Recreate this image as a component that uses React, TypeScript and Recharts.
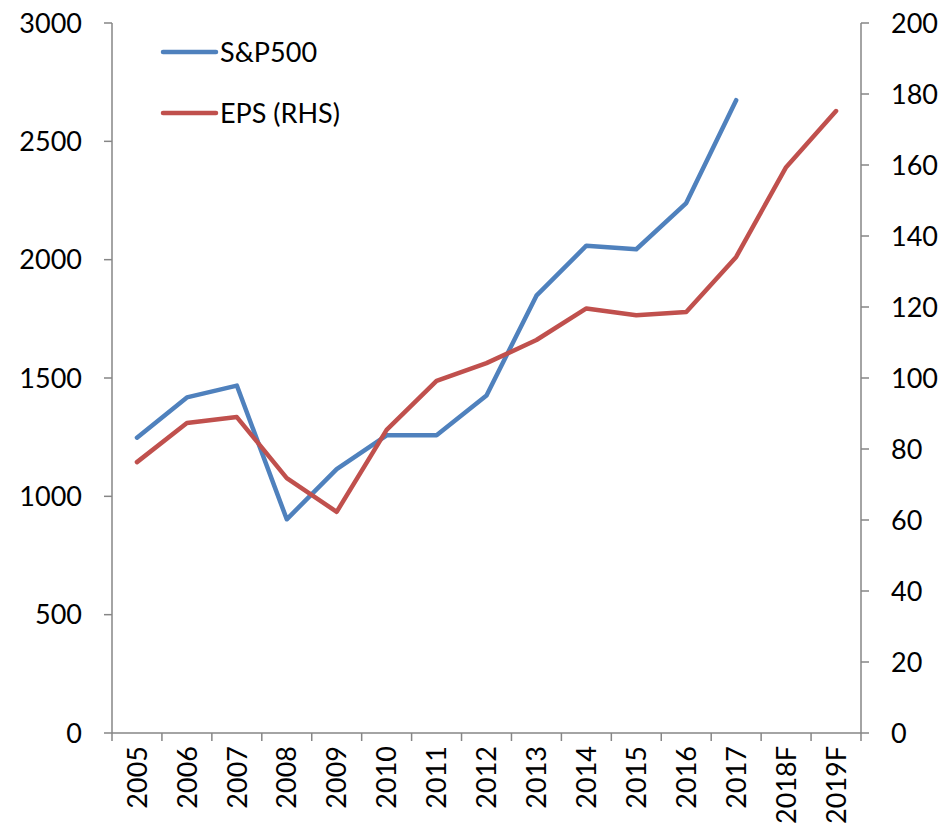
import React from "react";
import {
  LineChart,
  Line,
  XAxis,
  YAxis,
} from "recharts";

const years = [
  "2005", "2006", "2007", "2008", "2009", "2010", "2011", "2012",
  "2013", "2014", "2015", "2016", "2017", "2018F", "2019F",
];
const spx = [
  1248, 1418, 1468, 903, 1115, 1258, 1258, 1426, 1848, 2059, 2044, 2239, 2674,
  null, null,
];
const eps = [
  76.3, 87.3, 89.0, 71.8, 62.3, 85.4, 99.2, 104.2, 110.7, 119.6, 117.7, 118.6,
  134.1, 159.4, 175.2,
];
const leftTicks = [0, 500, 1000, 1500, 2000, 2500, 3000];
const rightTicks = [0, 20, 40, 60, 80, 100, 120, 140, 160, 180, 200];

const series = [
  { key: "spx", name: "S&P500", color: "#4F81BD", axis: "left" },
  { key: "eps", name: "EPS (RHS)", color: "#C0504D", axis: "right" },
];

const data = years.map((year, i) => ({ year, spx: spx[i], eps: eps[i] }));

const W = 952;
const H = 835;
const LEFT_W = 112;
const RIGHT_W = 91;
const BOTTOM_H = 102;
const TOP = 23;
const FONT = "Lato, 'Open Sans', sans-serif";
const AXIS = "#868686";
const BAND = (W - LEFT_W - RIGHT_W) / years.length;

const YearTick = (props: any) => {
  const { x, payload, index } = props;
  const axisY = H - BOTTOM_H;
  return (
    <g>
      <line x1={x - BAND / 2} x2={x - BAND / 2} y1={axisY} y2={axisY + 8} stroke={AXIS} strokeWidth={1.5} />
      {index === years.length - 1 && (
        <line x1={x + BAND / 2} x2={x + BAND / 2} y1={axisY} y2={axisY + 8} stroke={AXIS} strokeWidth={1.5} />
      )}
      <text
        x={x}
        y={axisY + 13}
        dy="0.36em"
        transform={`rotate(-90, ${x}, ${axisY + 13})`}
        textAnchor="end"
        fill="#000"
        fontSize={27}
        fontFamily={FONT}
      >
        {payload.value}
      </text>
    </g>
  );
};

// legend drawn as an overlay so it takes no room from the plot
const LegendBox = () => (
  <div
    style={{
      position: "absolute",
      left: 160,
      top: 21,
      fontFamily: FONT,
      fontSize: 27,
      color: "#000",
    }}
  >
    {series.map((s) => (
      <div key={s.key} style={{ display: "flex", alignItems: "center", height: 61 }}>
        <svg width={60} height={10}>
          <line x1={3} x2={56} y1={5} y2={5} stroke={s.color} strokeWidth={4.5} strokeLinecap="round" />
        </svg>
        <span>{s.name}</span>
      </div>
    ))}
  </div>
);

export default function App() {
  const tickStyle = { fill: "#000", fontSize: 27, fontFamily: FONT };
  return (
    <div style={{ position: "absolute", left: 0, top: 0, width: W, height: H, background: "#fff" }}>
      <LineChart
        width={W}
        height={H}
        data={data}
        margin={{ top: TOP, right: 0, left: 0, bottom: 0 }}
      >
        <XAxis
          dataKey="year"
          height={BOTTOM_H}
          interval={0}
          padding={{ left: BAND / 2, right: BAND / 2 }}
          tickLine={false}
          axisLine={{ stroke: AXIS, strokeWidth: 1.5 }}
          tick={<YearTick />}
        />
        <YAxis
          yAxisId="left"
          width={LEFT_W}
          domain={[0, 3000]}
          ticks={leftTicks}
          tickSize={8}
          tickMargin={22}
          tickLine={{ stroke: AXIS, strokeWidth: 1.5 }}
          axisLine={{ stroke: AXIS, strokeWidth: 1.5 }}
          tick={tickStyle}
        />
        <YAxis
          yAxisId="right"
          orientation="right"
          width={RIGHT_W}
          domain={[0, 200]}
          ticks={rightTicks}
          tickSize={8}
          tickMargin={22}
          tickLine={{ stroke: AXIS, strokeWidth: 1.5 }}
          axisLine={{ stroke: AXIS, strokeWidth: 1.5 }}
          tick={tickStyle}
        />
        {series.map((s) => (
          <Line
            key={s.key}
            yAxisId={s.axis}
            type="linear"
            dataKey={s.key}
            name={s.name}
            stroke={s.color}
            strokeWidth={4.5}
            strokeLinecap="round"
            strokeLinejoin="round"
            dot={false}
            activeDot={false}
            isAnimationActive={false}
          />
        ))}
      </LineChart>
      <LegendBox />
    </div>
  );
}
